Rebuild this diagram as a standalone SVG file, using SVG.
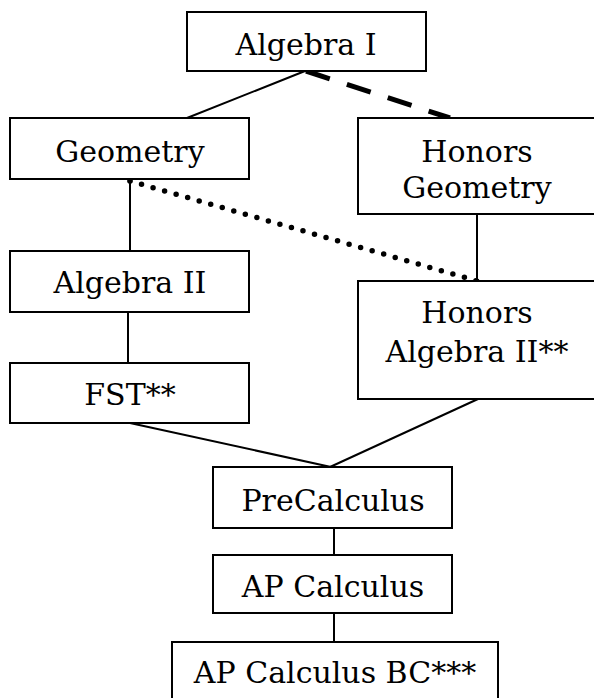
<svg xmlns="http://www.w3.org/2000/svg" width="594" height="698" viewBox="0 0 594 698">
<style>
.box{fill:#fff;stroke:#000;stroke-width:2}
.t{font-family:"DejaVu Serif","Liberation Serif",serif;font-size:30px;fill:#000;text-anchor:middle}
.ln{stroke:#000;stroke-width:2;fill:none}
.dash{stroke:#000;stroke-width:5;fill:none;stroke-dasharray:25 18}
.dot{stroke:#000;stroke-width:5.5;fill:none;stroke-dasharray:0 12;stroke-linecap:round}
</style>
<rect width="594" height="698" fill="#fff"/>
<g id="connectors">
<line class="ln" x1="305" y1="71" x2="187" y2="118"/>
<line class="dash" x1="306" y1="71" x2="450" y2="118"/>
<line class="ln" x1="130" y1="179" x2="130" y2="251"/>
<line class="dot" x1="130" y1="181" x2="477" y2="281"/>
<line class="ln" x1="477" y1="214" x2="477" y2="281"/>
<line class="ln" x1="128" y1="312" x2="128" y2="363"/>
<line class="ln" x1="130" y1="423" x2="331" y2="467"/>
<line class="ln" x1="478" y1="399" x2="330" y2="467"/>
<line class="ln" x1="334" y1="528" x2="334" y2="555"/>
<line class="ln" x1="334" y1="613" x2="334" y2="642"/>
<circle cx="130" cy="181" r="2.5"/>
<circle cx="477" cy="281" r="2.5"/>
</g>
<g id="algebra1"><rect class="box" x="187" y="12" width="239" height="59"/><text class="t" x="306" y="55">Algebra I</text></g>
<g id="geometry"><rect class="box" x="10" y="118" width="239" height="61"/><text class="t" x="130" y="162">Geometry</text></g>
<g id="honors-geometry"><rect class="box" x="358" y="118" width="239" height="96"/><text class="t" x="477" y="162">Honors</text><text class="t" x="477" y="198">Geometry</text></g>
<g id="algebra2"><rect class="box" x="10" y="251" width="239" height="61"/><text class="t" x="130" y="293">Algebra II</text></g>
<g id="honors-algebra2"><rect class="box" x="358" y="281" width="239" height="118"/><text class="t" x="477" y="323">Honors</text><text class="t" x="477" y="362">Algebra II**</text></g>
<g id="fst"><rect class="box" x="10" y="363" width="239" height="60"/><text class="t" x="130" y="405">FST**</text></g>
<g id="precalculus"><rect class="box" x="213" y="467" width="239" height="61"/><text class="t" x="333" y="511">PreCalculus</text></g>
<g id="ap-calculus"><rect class="box" x="213" y="555" width="239" height="58"/><text class="t" x="333" y="597">AP Calculus</text></g>
<g id="ap-calculus-bc"><rect class="box" x="172" y="642" width="326" height="70"/><text class="t" x="335" y="683">AP Calculus BC***</text></g>
</svg>
